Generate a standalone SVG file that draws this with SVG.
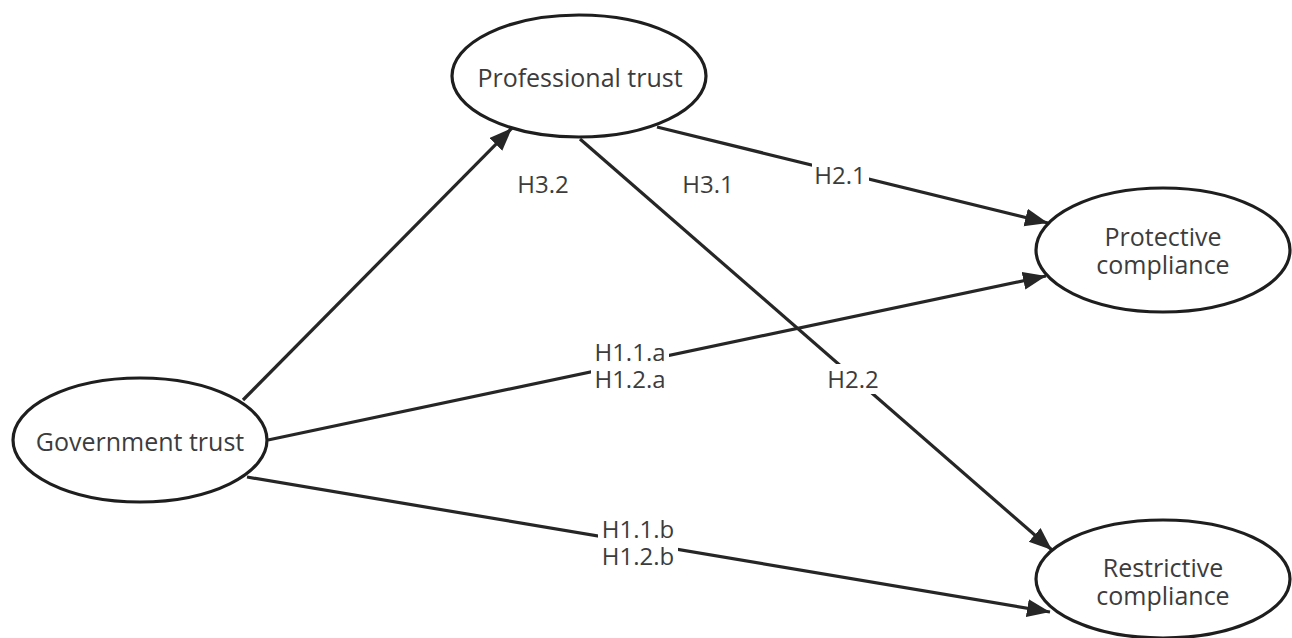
<svg xmlns="http://www.w3.org/2000/svg" width="1292" height="638" viewBox="0 0 1292 638">
  <style>
    .node ellipse { fill: #ffffff; stroke: #1e1e1e; stroke-width: 3.2; }
    .node text { font-family: "Open Sans", "Noto Sans", "DejaVu Sans", sans-serif; font-size: 25px; fill: #3c3c3c; text-anchor: middle; }
    .edge { stroke: #262626; stroke-width: 3.2; fill: none; marker-end: url(#arrow); }
    .lbl text { font-family: "Open Sans", "Noto Sans", "DejaVu Sans", sans-serif; font-size: 24px; fill: #3c3c3c; text-anchor: middle; }
    .lbl rect { fill: #ffffff; stroke: none; }
  </style>
  <defs>
    <marker id="arrow" markerUnits="userSpaceOnUse" markerWidth="26" markerHeight="20" refX="23" refY="9" orient="auto">
      <path d="M0,0 L23,9 L0,18 z" fill="#262626"/>
    </marker>
  </defs>
  <rect width="1292" height="638" fill="#ffffff"/>

  <g id="connectors">
    <line class="edge" x1="243" y1="400" x2="512" y2="128"/>
    <line class="edge" x1="657" y1="127" x2="1048" y2="223"/>
    <line class="edge" x1="580" y1="139" x2="1052" y2="550"/>
    <line class="edge" x1="268" y1="440" x2="1046" y2="276"/>
    <line class="edge" x1="247" y1="477" x2="1050" y2="612"/>

    <g class="lbl" id="label-h32"><text x="543" y="193">H3.2</text></g>
    <g class="lbl" id="label-h31"><text x="708" y="193">H3.1</text></g>
    <g class="lbl" id="label-h21">
      <rect x="812" y="161" width="57" height="28"/>
      <text x="840" y="184">H2.1</text>
    </g>
    <g class="lbl" id="label-h22">
      <rect x="823" y="364" width="60" height="30"/>
      <text x="853" y="388">H2.2</text>
    </g>
    <g class="lbl" id="label-h1a">
      <rect x="591" y="339" width="78" height="56"/>
      <text x="630" y="361">H1.1.a</text>
      <text x="630" y="388">H1.2.a</text>
    </g>
    <g class="lbl" id="label-h1b">
      <rect x="598" y="517" width="80" height="56"/>
      <text x="638" y="538">H1.1.b</text>
      <text x="638" y="565">H1.2.b</text>
    </g>
  </g>

  <g id="node-professional" class="node">
    <ellipse cx="579" cy="76" rx="127" ry="61"/>
    <text x="580" y="87">Professional trust</text>
  </g>
  <g id="node-government" class="node">
    <ellipse cx="140" cy="440" rx="127" ry="62"/>
    <text x="140" y="451">Government trust</text>
  </g>
  <g id="node-protective" class="node">
    <ellipse cx="1163" cy="250" rx="127" ry="62"/>
    <text x="1163" y="246">Protective</text>
    <text x="1163" y="274">compliance</text>
  </g>
  <g id="node-restrictive" class="node">
    <ellipse cx="1163" cy="579" rx="127" ry="59"/>
    <text x="1163" y="577">Restrictive</text>
    <text x="1163" y="605">compliance</text>
  </g>
</svg>
